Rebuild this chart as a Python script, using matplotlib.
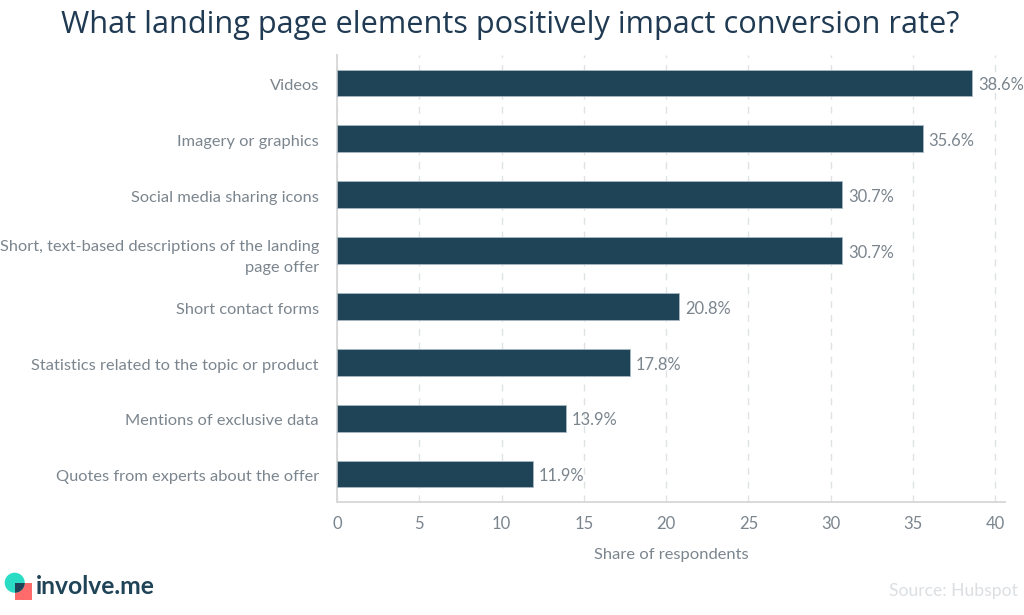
import matplotlib
matplotlib.use('Agg')
import matplotlib.pyplot as plt
from matplotlib.patches import Circle, Rectangle
from matplotlib.transforms import ScaledTranslation

categories = [
    'Videos',
    'Imagery or graphics',
    'Social media sharing icons',
    'Short, text-based descriptions of the landing\npage offer',
    'Short contact forms',
    'Statistics related to the topic or product',
    'Mentions of exclusive data',
    'Quotes from experts about the offer',
]
shares = [38.6, 35.6, 30.7, 30.7, 20.8, 17.8, 13.9, 11.9]
x_ticks = [0, 5, 10, 15, 20, 25, 30, 35, 40]

W, H = 1024, 615
BAR_COLOR = '#1f4357'
TEXT_COLOR = '#7b858e'

plt.rcParams['font.family'] = 'Lato'

fig = plt.figure(figsize=(W / 100, H / 100), dpi=100, facecolor='white')
ax = fig.add_axes([337 / W, 1 - 502 / H, (1005 - 337) / W, 447 / H])

ax.barh(range(len(shares)), shares, height=0.48, color=BAR_COLOR,
        edgecolor='#a9b8c2', linewidth=0.6, zorder=3)
for i, v in enumerate(shares):
    ax.annotate(f'{v}%', (v, i), xytext=(4.3, -1.6), textcoords='offset points',
                va='center', ha='left', fontsize=11.9, color=TEXT_COLOR,
                annotation_clip=False, zorder=4)

ax.set_xlim(0, 40.6)
ax.set_ylim(7.5, -0.5)
ax.set_yticks(range(len(categories)))
ax.set_yticklabels(categories, fontsize=11.75, color=TEXT_COLOR, linespacing=1.65)
ax.set_xticks(x_ticks)
ax.tick_params(axis='x', length=0, pad=10, labelsize=12, labelcolor=TEXT_COLOR)
ax.tick_params(axis='y', length=0, pad=13)
# labels sit a little below the bar centres
shift = ScaledTranslation(0, -1.3 / 72, fig.dpi_scale_trans)
for label in ax.get_yticklabels():
    label.set_transform(label.get_transform() + shift)
ax.xaxis.grid(True, color='#dfe2e5', linestyle=(0, (5, 5)), linewidth=1, zorder=0)
ax.set_axisbelow(True)
for side in ('top', 'right'):
    ax.spines[side].set_visible(False)
for side in ('left', 'bottom'):
    ax.spines[side].set_color('#d9d9d9')
    ax.spines[side].set_linewidth(1.4)

fig.text(671 / W, 1 - 555 / H, 'Share of respondents', ha='center', va='center',
         fontsize=11.85, color=TEXT_COLOR)
fig.text(510.5 / W, 1 - 25.5 / H, 'What landing page elements positively impact conversion rate?',
         ha='center', va='center', fontsize=22.1, color='#1f3a52', family='Open Sans')
fig.text(1018 / W, 1 - 591 / H, 'Source: Hubspot', ha='right', va='center',
         fontsize=12.6, color='#dcdfe2')

# logo
logo = fig.add_axes([0, 0, 1, 1], facecolor='none')
logo.set_xlim(0, W)
logo.set_ylim(H, 0)
logo.axis('off')
logo.add_patch(Rectangle((15, 583), 16.5, 16.5, color='#ff6b6b', lw=0))
circle = Circle((14.7, 582.7), 10, color='#2bdcc4', lw=0)
logo.add_patch(circle)
overlap = Rectangle((15, 583), 16.5, 16.5, color=BAR_COLOR, lw=0)
logo.add_patch(overlap)
overlap.set_clip_path(circle)
logo.text(36, 587, 'involve.me', fontsize=17.7, fontweight='bold', color=BAR_COLOR,
          va='center', ha='left')

fig.savefig('out.png', dpi=100, facecolor='white')
